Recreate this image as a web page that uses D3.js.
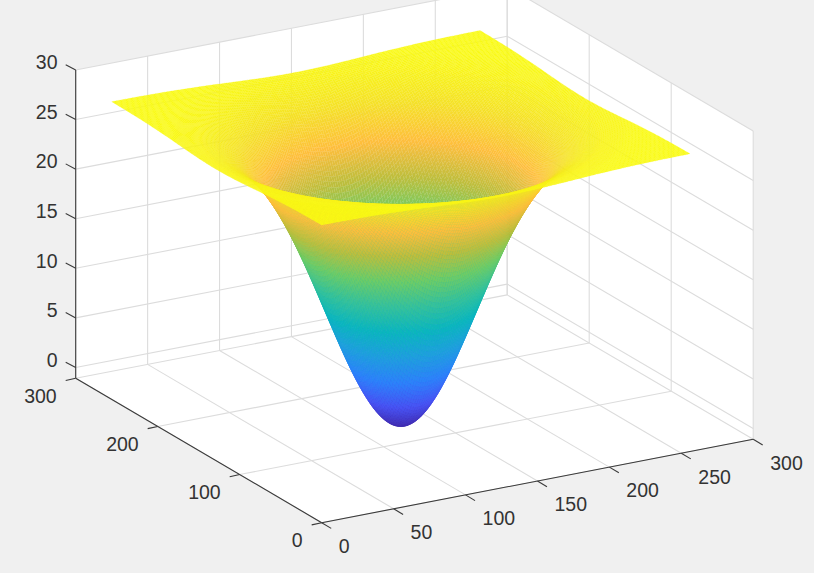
<!DOCTYPE html>
<html>
<head>
<meta charset="utf-8">
<script src="https://cdnjs.cloudflare.com/ajax/libs/d3/7.8.5/d3.min.js"></script>
<style>
html, body { margin: 0; padding: 0; background: #f0f0f0; overflow: hidden; }
svg { display: block; }
text { font-family: "Liberation Sans", Arial, sans-serif; font-size: 19.5px; fill: #333333; }
</style>
</head>
<body>
<script>
var xTicks = [0, 50, 100, 150, 200, 250, 300];
var yTicks = [0, 100, 200, 300];
var zTicks = [0, 5, 10, 15, 20, 25, 30];

// distance from the middle of the surface, along x and along y
var bowlCenter = 128;
var bowlOffsets = [0, 8, 16, 24, 32, 40, 48, 56, 64, 72, 80, 88, 96, 104, 112, 120, 128];

// surface height, one quadrant (the bowl is mirrored both ways)
var bowlZ = [
  [-1.09, -0.64, 0.66, 2.72, 5.34, 8.34, 11.48, 14.60, 17.49, 20.08, 22.29, 24.10, 25.51, 26.59, 27.38, 27.93, 28.31],
  [-0.64, -0.20, 1.09, 3.11, 5.69, 8.64, 11.74, 14.80, 17.66, 20.21, 22.39, 24.17, 25.56, 26.63, 27.40, 27.95, 28.32],
  [0.66, 1.09, 2.32, 4.25, 6.72, 9.54, 12.50, 15.43, 18.16, 20.60, 22.67, 24.38, 25.71, 26.73, 27.47, 27.99, 28.35],
  [2.72, 3.11, 4.25, 6.04, 8.34, 10.95, 13.70, 16.41, 18.95, 21.20, 23.13, 24.71, 25.95, 26.89, 27.58, 28.06, 28.39],
  [5.34, 5.69, 6.72, 8.34, 10.39, 12.74, 15.22, 17.66, 19.95, 21.97, 23.71, 25.13, 26.25, 27.10, 27.72, 28.15, 28.45],
  [8.34, 8.64, 9.54, 10.95, 12.74, 14.80, 16.97, 19.10, 21.08, 22.86, 24.38, 25.62, 26.59, 27.33, 27.87, 28.25, 28.51],
  [11.48, 11.74, 12.50, 13.70, 15.22, 16.97, 18.80, 20.60, 22.29, 23.79, 25.08, 26.13, 26.95, 27.58, 28.04, 28.36, 28.58],
  [14.60, 14.80, 15.43, 16.41, 17.66, 19.10, 20.60, 22.08, 23.47, 24.71, 25.76, 26.63, 27.31, 27.82, 28.20, 28.47, 28.65],
  [17.49, 17.66, 18.16, 18.95, 19.95, 21.08, 22.29, 23.47, 24.58, 25.56, 26.41, 27.10, 27.64, 28.05, 28.35, 28.56, 28.71],
  [20.08, 20.21, 20.60, 21.20, 21.97, 22.86, 23.79, 24.71, 25.56, 26.33, 26.98, 27.52, 27.93, 28.25, 28.49, 28.65, 28.76],
  [22.29, 22.39, 22.67, 23.13, 23.71, 24.38, 25.08, 25.76, 26.41, 26.98, 27.47, 27.87, 28.19, 28.43, 28.60, 28.73, 28.81],
  [24.10, 24.17, 24.38, 24.71, 25.13, 25.62, 26.13, 26.63, 27.10, 27.52, 27.87, 28.18, 28.39, 28.56, 28.70, 28.79, 28.85],
  [25.51, 25.56, 25.71, 25.95, 26.25, 26.59, 26.95, 27.31, 27.64, 27.93, 28.19, 28.39, 28.55, 28.68, 28.77, 28.84, 28.88],
  [26.59, 26.63, 26.73, 26.89, 27.10, 27.33, 27.58, 27.82, 28.05, 28.25, 28.43, 28.56, 28.68, 28.76, 28.83, 28.87, 28.90],
  [27.38, 27.40, 27.47, 27.58, 27.72, 27.87, 28.04, 28.20, 28.35, 28.49, 28.60, 28.70, 28.77, 28.83, 28.87, 28.90, 28.92],
  [27.93, 27.95, 27.99, 28.06, 28.15, 28.25, 28.36, 28.47, 28.56, 28.65, 28.73, 28.79, 28.84, 28.87, 28.90, 28.92, 28.93],
  [28.31, 28.32, 28.35, 28.39, 28.45, 28.51, 28.58, 28.65, 28.71, 28.76, 28.81, 28.85, 28.88, 28.90, 28.92, 28.93, 28.94]
];

// parula
var parulaStops = [0, 0.1, 0.2, 0.3, 0.4, 0.5, 0.6, 0.7, 0.8, 0.9, 1];
var parulaColors = ["#3e26a8", "#4753f5", "#2b83fa", "#1ea0dc", "#0ab7bc", "#37c298", "#70cc64",
  "#bebe3c", "#febe3c", "#f5e128", "#f9fb15"];

var width = 814, height = 573;
var zMin = -1.09, zMax = 30;

// axonometric box: every data axis adds its own pixel offset to the corner
var originX = 321.7, originY = 522.7;
var xToPx = d3.scaleLinear().domain([0, 300]).range([0, 431.5]);
var xToPy = d3.scaleLinear().domain([0, 300]).range([0, -83.4]);
var yToPx = d3.scaleLinear().domain([0, 300]).range([0, -246]);
var yToPy = d3.scaleLinear().domain([0, 300]).range([0, -144.4]);
var zToPy = d3.scaleLinear().domain([zMin, zMax]).range([0, -308.3]);

function project(x, y, z) {
  return [originX + xToPx(x) + yToPx(y), originY + xToPy(x) + yToPy(y) + zToPy(z)];
}

var color = d3.scaleLinear()
  .domain(parulaStops.map(function(t) { return zMin + t * (28.95 - zMin); }))
  .range(parulaColors)
  .interpolate(d3.interpolateRgb)
  .clamp(true);

var svg = d3.select("body").append("svg")
  .attr("width", width)
  .attr("height", height);

var line = d3.line();

// back walls and floor
var walls = [
  [project(0, 0, zMin), project(300, 0, zMin), project(300, 300, zMin), project(0, 300, zMin)],
  [project(0, 300, zMin), project(300, 300, zMin), project(300, 300, zMax), project(0, 300, zMax)],
  [project(300, 0, zMin), project(300, 300, zMin), project(300, 300, zMax), project(300, 0, zMax)]
];
svg.append("g").selectAll("path").data(walls).enter().append("path")
  .attr("d", function(d) { return line(d) + "Z"; })
  .attr("fill", "#ffffff");

// grid lines
var gridLines = [];
xTicks.forEach(function(x) {
  gridLines.push([project(x, 0, zMin), project(x, 300, zMin)]);
  gridLines.push([project(x, 300, zMin), project(x, 300, zMax)]);
});
yTicks.forEach(function(y) {
  gridLines.push([project(0, y, zMin), project(300, y, zMin)]);
  gridLines.push([project(300, y, zMin), project(300, y, zMax)]);
});
zTicks.forEach(function(z) {
  gridLines.push([project(0, 300, z), project(300, 300, z)]);
  gridLines.push([project(300, 300, z), project(300, 0, z)]);
});
svg.append("g").selectAll("path").data(gridLines).enter().append("path")
  .attr("d", line)
  .attr("fill", "none")
  .attr("stroke", "#dcdcdc")
  .attr("stroke-width", 1.1);

// surface heights mirrored from the quadrant onto the full mesh
var gridPos = bowlOffsets.slice(1).reverse().map(function(o) { return bowlCenter - o; })
  .concat(bowlOffsets.map(function(o) { return bowlCenter + o; }));
var lastNode = gridPos.length - 1;
function heightAt(i, j) {
  i = Math.max(0, Math.min(lastNode, i));
  j = Math.max(0, Math.min(lastNode, j));
  return bowlZ[Math.abs(i - 16)][Math.abs(j - 16)];
}

// smooth shading between the read heights, like shading interp
function smooth(p0, p1, p2, p3, t) {
  return p1 + 0.5 * t * (p2 - p0 + t * (2 * p0 - 5 * p1 + 4 * p2 - p3 + t * (3 * p1 - p0 - 3 * p2 + p3)));
}

function meshPoint(d, da, db) {
  var u = (d.a + da) / shade, v = (d.b + db) / shade;
  var rows = [-1, 0, 1, 2].map(function(n) {
    return smooth(heightAt(d.i - 1, d.j + n), heightAt(d.i, d.j + n),
      heightAt(d.i + 1, d.j + n), heightAt(d.i + 2, d.j + n), u);
  });
  return {
    x: d3.interpolateNumber(gridPos[d.i], gridPos[d.i + 1])(u),
    y: d3.interpolateNumber(gridPos[d.j], gridPos[d.j + 1])(v),
    z: smooth(rows[0], rows[1], rows[2], rows[3], v)
  };
}

// far corner first so nearer pieces paint over it
var shade = 5;
var pieces = [];
d3.range(lastNode - 1, -1, -1).forEach(function(j) {
  d3.range(lastNode - 1, -1, -1).forEach(function(i) {
    d3.range(shade - 1, -1, -1).forEach(function(b) {
      d3.range(shade - 1, -1, -1).forEach(function(a) {
        pieces.push({ i: i, j: j, a: a, b: b });
      });
    });
  });
});

svg.append("g").selectAll("path").data(pieces).enter().append("path")
  .each(function(d) {
    var c = [meshPoint(d, 0, 0), meshPoint(d, 1, 0), meshPoint(d, 1, 1), meshPoint(d, 0, 1)];
    var fill = color(d3.mean(c, function(p) { return p.z; }));
    d3.select(this)
      .attr("d", line(c.map(function(p) { return project(p.x, p.y, p.z); })) + "Z")
      .attr("fill", fill)
      .attr("stroke", fill)
      .attr("stroke-width", 0.2);
  });

// axis lines, ticks and labels
var axisColor = "#3a3a3a";
var axisG = svg.append("g");
var axisLines = [
  [project(0, 0, zMin), project(300, 0, zMin)],
  [project(0, 0, zMin), project(0, 300, zMin)],
  [project(0, 300, zMin), project(0, 300, zMax)]
];
xTicks.forEach(function(x) {
  var p = project(x, 0, zMin);
  axisLines.push([p, [p[0] + 9.5, p[1] + 5.7]]);
});
yTicks.forEach(function(y) {
  var p = project(0, y, zMin);
  axisLines.push([p, [p[0] - 10, p[1] + 2.2]]);
});
zTicks.forEach(function(z) {
  var p = project(0, 300, z);
  axisLines.push([p, [p[0] - 10, p[1] - 5.3]]);
});
axisG.selectAll("path").data(axisLines).enter().append("path")
  .attr("d", line)
  .attr("fill", "none")
  .attr("stroke", axisColor)
  .attr("stroke-width", 1.1);

axisG.selectAll(".xlab").data(xTicks).enter().append("text")
  .attr("x", function(d) { return project(d, 0, zMin)[0] + 17; })
  .attr("y", function(d) { return project(d, 0, zMin)[1] + 23.5; })
  .attr("dy", "0.35em")
  .attr("text-anchor", "start")
  .text(function(d) { return d; });

axisG.selectAll(".ylab").data(yTicks).enter().append("text")
  .attr("x", function(d) { return project(0, d, zMin)[0] - 19; })
  .attr("y", function(d) { return project(0, d, zMin)[1] + 17.5; })
  .attr("dy", "0.35em")
  .attr("text-anchor", "end")
  .text(function(d) { return d; });

axisG.selectAll(".zlab").data(zTicks).enter().append("text")
  .attr("x", 57.5)
  .attr("y", function(d) { return project(0, 300, d)[1] - 7.5; })
  .attr("dy", "0.35em")
  .attr("text-anchor", "end")
  .text(function(d) { return d; });
</script>
</body>
</html>
